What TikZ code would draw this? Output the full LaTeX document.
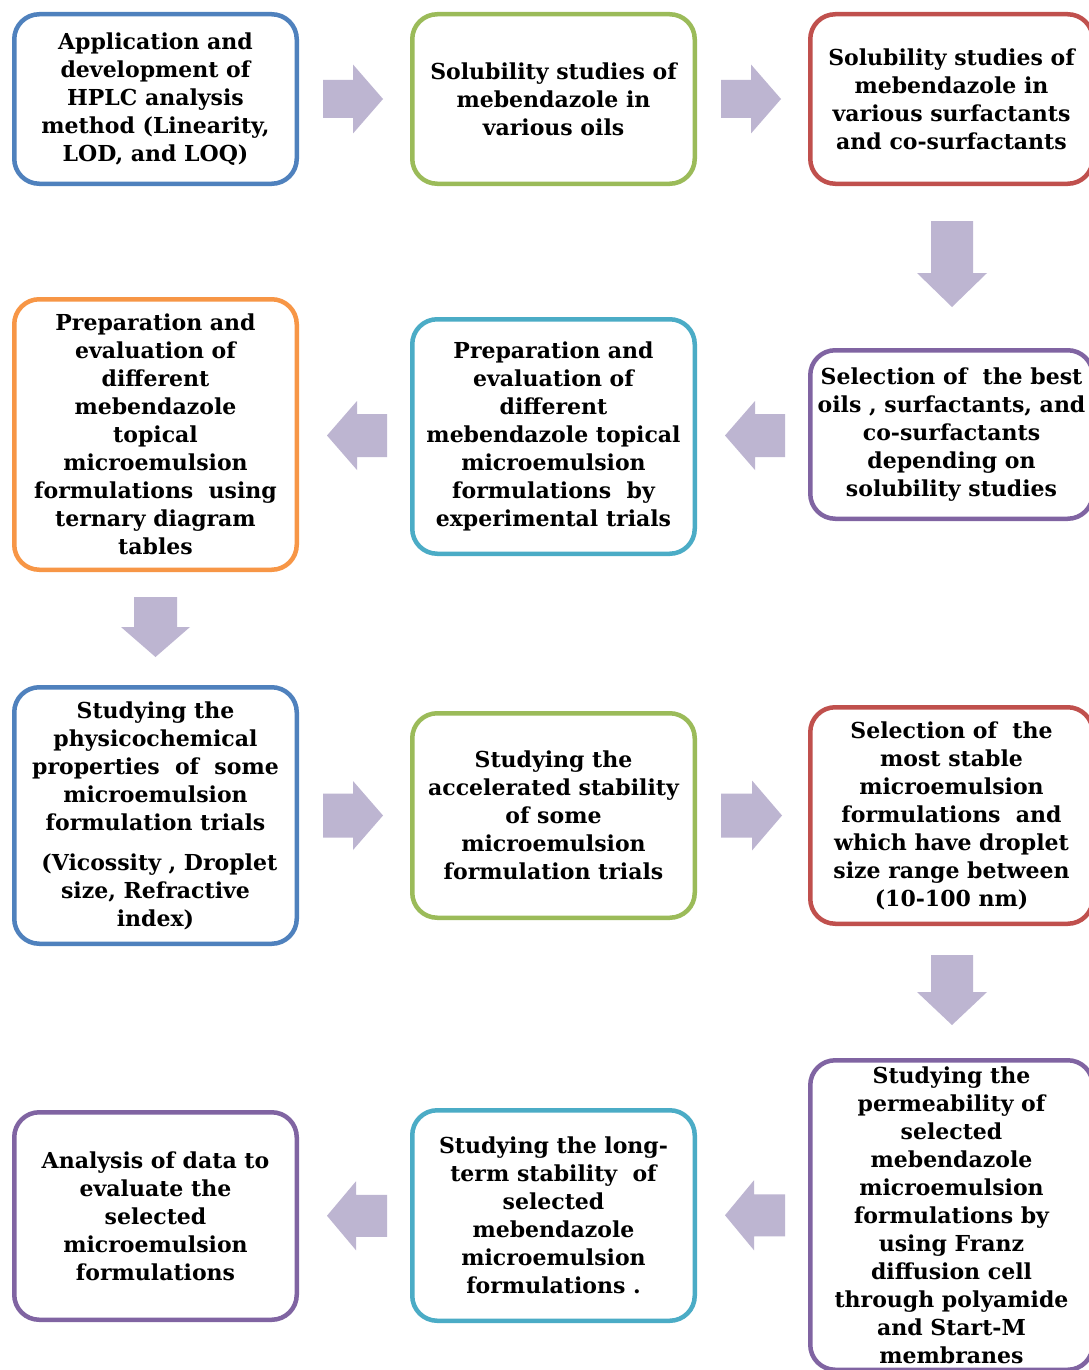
\documentclass[tikz,border=0pt]{standalone}
\usepackage{fontspec}
\setmainfont{DejaVu Serif}
\usetikzlibrary{calc}
\definecolor{cblue}{HTML}{4F81BD}
\definecolor{cgreen}{HTML}{9BBB59}
\definecolor{cred}{HTML}{C0504D}
\definecolor{cpurple}{HTML}{8064A2}
\definecolor{ccyan}{HTML}{4BACC6}
\definecolor{corange}{HTML}{F79646}
\definecolor{carrow}{HTML}{BDB5D1}
\newcommand\hblock[6]{\begin{scope}[shift={(#1)},xscale=#2]\fill[blk] (-#3,-#5) -- ({#3-#4},-#5) -- ({#3-#4},-#6) -- (#3,0) -- ({#3-#4},#6) -- ({#3-#4},#5) -- (-#3,#5) -- cycle;\end{scope}}
\newcommand\vblock[5]{\begin{scope}[shift={(#1)}]\fill[blk] (-#4,-#2) -- (-#4,{#2-#3}) -- (-#5,{#2-#3}) -- (0,#2) -- (#5,{#2-#3}) -- (#4,{#2-#3}) -- (#4,-#2) -- cycle;\end{scope}}
\tikzset{
  box/.style={draw=#1, line width=4.5pt, rounded corners=25pt, fill=white,
    minimum width=282.5pt, align=center, inner sep=0pt,
    font=\fontsize{22}{28}\selectfont\bfseries},
  blk/.style={fill=carrow, draw=none}
}
\begin{document}
\begin{tikzpicture}[x=1pt,y=-1pt]
\useasboundingbox (0,0) rectangle (1089,1370);
\clip (0,0) rectangle (1089,1370);
\fill[white] (0,0) rectangle (1089,1370);
% row 1
\node[box=cblue, minimum height=169.5pt] (b1) at (155.5,99)
  {Application and\\development of\\HPLC analysis\\method (Linearity,\\LOD, and LOQ)};
\node[box=cgreen, minimum height=169.5pt] (b2) at (553.5,99)
  {Solubility studies of\\mebendazole in\\various oils};
\node[box=cred, minimum height=169.5pt] (b3) at (951.5,99)
  {Solubility studies of\\mebendazole in\\various surfactants\\and co-surfactants};
% row 2
\node[box=cpurple, minimum height=168.5pt] (b4) at (951.5,434.5)
  {Selection of\ \ the best\\oils , surfactants, and\\co-surfactants\\depending on\\solubility studies};
\node[box=ccyan, minimum height=234.5pt] (b5) at (553.5,436.5)
  {Preparation and\\evaluation of\\different\\mebendazole topical\\microemulsion\\formulations\ \ by\\experimental trials};
\node[box=corange, minimum height=270.5pt] (b6) at (155.5,434.5)
  {Preparation and\\evaluation of\\different\\mebendazole\\topical\\microemulsion\\formulations\ \ using\\ternary diagram\\tables};
% row 3
\node[box=cblue, minimum height=256.5pt] (b7) at (155.5,815.5)
  {Studying the\\physicochemical\\properties\ \ of\ \ some\\microemulsion\\formulation trials\\[12pt]\ (Vicossity , Droplet\\size, Refractive\\index)};
\node[box=cgreen, minimum height=204.5pt] (b8) at (553.5,815.5)
  {Studying the\\accelerated stability\\of some\\microemulsion\\formulation trials};
\node[box=cred, minimum height=216.5pt] (b9) at (951.5,815.5)
  {Selection of\ \ the\\most stable\\microemulsion\\formulations\ \ and\\which have droplet\\size range between\\(10-100 nm)};
% row 4
\node[box=cpurple, minimum height=309.5pt] (b10) at (951.5,1215)
  {Studying the\\permeability of\\selected\\mebendazole\\microemulsion\\formulations by\\using Franz\\diffusion cell\\through polyamide\\and Start-M\\membranes};
\node[box=ccyan, minimum height=210.5pt] (b11) at (553.5,1215.5)
  {Studying the long-\\term stability\ \ of\\selected\\mebendazole\\microemulsion\\formulations .};
\node[box=cpurple, minimum height=207.5pt] (b12) at (155.5,1216)
  {Analysis of data to\\evaluate the\\selected\\microemulsion\\formulations};
% block arrows
\hblock{$(b1.east)!0.5!(b2.west)+(-1.5,0)$}{1}{30}{30}{19}{34.5}
\hblock{$(b2.east)!0.5!(b3.west)+(-1.5,0)$}{1}{30}{30}{19}{34.5}
\vblock{$(b3.south)!0.5!(b4.north)+(0.5,-3)$}{43}{34}{21}{35}
\hblock{$(b4.west)!0.5!(b5.east)+(2.5,0)$}{-1}{30}{30}{21.5}{34.5}
\hblock{$(b5.west)!0.5!(b6.east)+(2.5,0)$}{-1}{30}{30}{21.5}{34.5}
\vblock{$(b6.south)!0.5!(b7.north)+(0,-1.5)$}{30}{30}{21.5}{34.5}
\hblock{$(b7.east)!0.5!(b8.west)+(-1.5,0)$}{1}{30}{30}{22}{34.5}
\hblock{$(b8.east)!0.5!(b9.west)+(-1,0)$}{1}{30.5}{30}{22}{35}
\vblock{$(b9.south)!0.5!(b10.north)+(0.5,-2)$}{35}{33}{21}{35}
\hblock{$(b10.west)!0.5!(b11.east)+(2.5,0)$}{-1}{30}{29}{21}{35}
\hblock{$(b11.west)!0.5!(b12.east)+(2.5,0)$}{-1}{30}{29}{21}{34.5}
\end{tikzpicture}
\end{document}
